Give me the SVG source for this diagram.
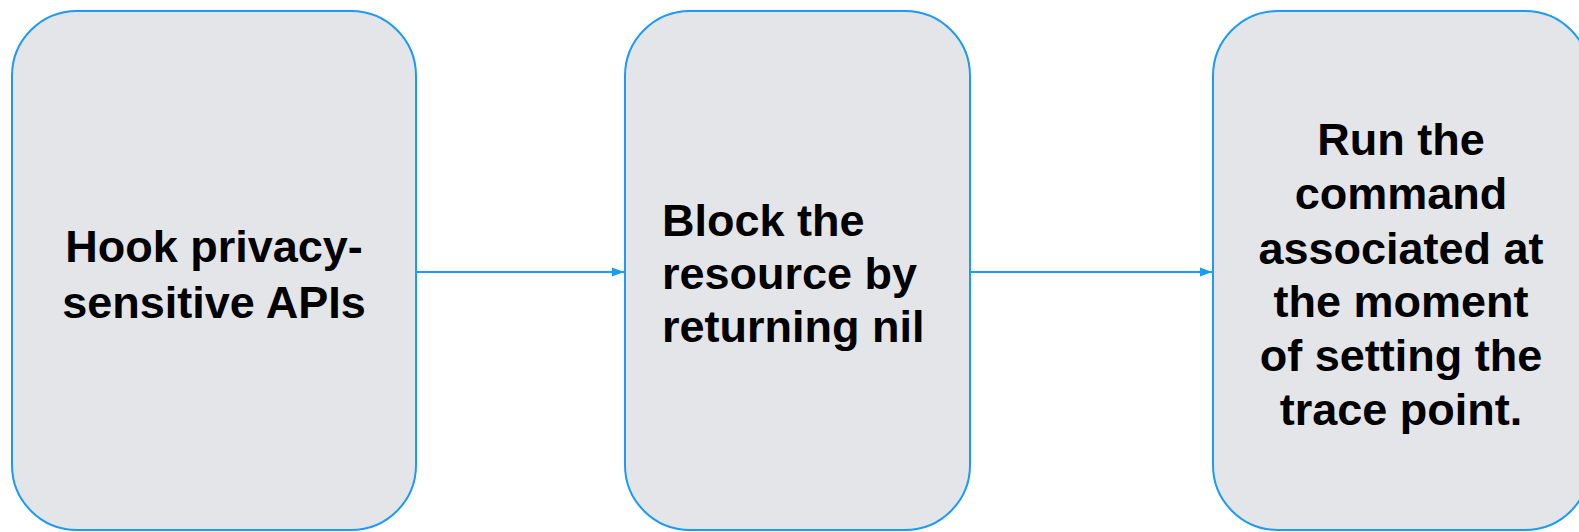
<svg xmlns="http://www.w3.org/2000/svg" width="1579" height="532" viewBox="0 0 1579 532">
<style>
.box{fill:#e4e5e9;stroke:#1a9bf7;stroke-width:2}
.t{font-family:"Liberation Sans",Arial,sans-serif;font-weight:bold;font-size:45px;fill:#000}
.c{stroke:#1a9bf7;stroke-width:2;fill:none}
</style>
<defs>
<marker id="ah" markerWidth="12" markerHeight="10" refX="12" refY="5" orient="auto" markerUnits="userSpaceOnUse">
<path d="M0,0.5 L12,5 L0,9.5 Z" fill="#1a9bf7"/>
</marker>
</defs>
<rect width="1579" height="532" fill="#ffffff"/>
<g id="connectors">
<line class="c" x1="416" y1="272" x2="624" y2="272" marker-end="url(#ah)"/>
<line class="c" x1="970" y1="272" x2="1212" y2="272" marker-end="url(#ah)"/>
</g>
<g id="node1">
<rect class="box" x="12" y="11" width="404" height="519" rx="65" ry="65"/>
<text class="t" text-anchor="middle"><tspan x="214" y="262">Hook privacy-</tspan><tspan x="214" y="318">sensitive APIs</tspan></text>
</g>
<g id="node2">
<rect class="box" x="625" y="11" width="345" height="519" rx="65" ry="65"/>
<text class="t"><tspan x="662" y="236">Block the</tspan><tspan x="662" y="289">resource by</tspan><tspan x="662" y="342">returning nil</tspan></text>
</g>
<g id="node3">
<rect class="box" x="1213" y="11" width="377" height="519" rx="65" ry="65"/>
<text class="t" text-anchor="middle"><tspan x="1401" y="155">Run the</tspan><tspan x="1401" y="209">command</tspan><tspan x="1401" y="264">associated at</tspan><tspan x="1401" y="317">the moment</tspan><tspan x="1401" y="371">of setting the</tspan><tspan x="1401" y="425">trace point.</tspan></text>
</g>
</svg>
